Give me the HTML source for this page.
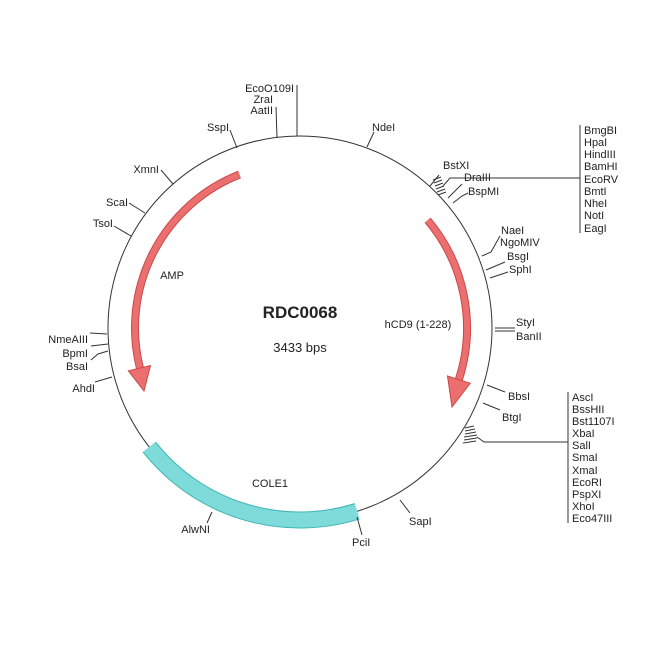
<!DOCTYPE html>
<html><head><meta charset="utf-8"><style>
html,body{margin:0;padding:0;background:#fff}
svg text{font-family:"Liberation Sans",sans-serif;fill:#222}
</style></head><body>
<svg width="650" height="650" viewBox="0 0 650 650" xmlns="http://www.w3.org/2000/svg">
<circle cx="300" cy="328" r="192" fill="none" stroke="#333" stroke-width="1"/>
<!-- COLE1 -->
<path d="M357.1 511.3 A192 192 0 0 1 149.3 447.0" fill="none" stroke="#3bb5b5" stroke-width="17"/>
<path d="M357.1 511.3 A192 192 0 0 1 149.3 447.0" fill="none" stroke="#7fdada" stroke-width="15"/>
<!-- AMP -->
<path d="M239.5 174.5 A165 165 0 0 0 139.9 367.9" fill="none" stroke="#c94848" stroke-width="8"/>
<path d="M239.5 174.5 A165 165 0 0 0 139.9 367.9" fill="none" stroke="#ec6f6f" stroke-width="6"/>
<polygon points="128.3,370.8 150.5,365.5 144,391" fill="#ec6f6f" stroke="#c94848" stroke-width="1"/>
<!-- hCD9 -->
<path d="M427.6 220.2 A167 167 0 0 1 458.8 379.6" fill="none" stroke="#c94848" stroke-width="8"/>
<path d="M427.6 220.2 A167 167 0 0 1 458.8 379.6" fill="none" stroke="#ec6f6f" stroke-width="6"/>
<polygon points="447.5,376 470.2,383.3 452,407" fill="#ec6f6f" stroke="#c94848" stroke-width="1"/>

<g stroke="#333" stroke-width="1" fill="none">
<line x1="297" y1="136" x2="297" y2="85"/>
<line x1="277" y1="138" x2="276" y2="107"/>
<line x1="237" y1="148" x2="230" y2="130"/>
<line x1="173" y1="184" x2="161" y2="170"/>
<line x1="145" y1="213" x2="129" y2="203"/>
<line x1="131" y1="236" x2="114" y2="226"/>
<line x1="367" y1="147" x2="374" y2="132"/>
<line x1="430" y1="186" x2="439" y2="175"/>
<polyline points="443,186 450,178 580,178"/>
<line x1="580" y1="125" x2="580" y2="233"/>
<polyline points="448,198 456,190 462,184"/>
<polyline points="453,203 462,196 468,193"/>
<polyline points="482,256 491,252 500,236"/>
<line x1="486" y1="270" x2="505" y2="262"/>
<line x1="490" y1="278" x2="508" y2="272"/>
<line x1="495" y1="328" x2="515" y2="328"/>
<line x1="495" y1="331" x2="515" y2="331"/>
<line x1="487" y1="385" x2="505" y2="392"/>
<line x1="483" y1="403" x2="500" y2="410"/>
<polyline points="477,437 484,442 568,442"/>
<line x1="568" y1="392" x2="568" y2="523"/>
<line x1="400" y1="500" x2="410" y2="513"/>
<line x1="357" y1="517" x2="362" y2="535"/>
<line x1="212" y1="512" x2="207" y2="523"/>
<line x1="112" y1="377" x2="95" y2="382"/>
<line x1="107" y1="334" x2="90" y2="333"/>
<line x1="108" y1="344" x2="91" y2="346"/>
<polyline points="108,351 98,354 91,360"/>
</g>
<!-- hatched boxes -->
<g stroke="#333" stroke-width="1">
<line x1="433" y1="180" x2="441" y2="177"/><line x1="434" y1="183" x2="442" y2="180"/>
<line x1="435" y1="186" x2="443" y2="183"/><line x1="436" y1="189" x2="444" y2="186"/>
<line x1="437" y1="192" x2="445" y2="189"/><line x1="438" y1="195" x2="446" y2="192"/>
<line x1="465" y1="428" x2="474" y2="426"/><line x1="465" y1="431" x2="475" y2="429"/>
<line x1="465" y1="434" x2="476" y2="432"/><line x1="464" y1="437" x2="477" y2="435"/>
<line x1="464" y1="440" x2="477" y2="438"/><line x1="463" y1="443" x2="476" y2="441"/>
</g>
<g font-size="11">
<text x="294" y="92" text-anchor="end">EcoO109I</text>
<text x="273" y="103" text-anchor="end">ZraI</text>
<text x="273" y="114" text-anchor="end">AatII</text>
<text x="229" y="131" text-anchor="end">SspI</text>
<text x="159" y="173" text-anchor="end">XmnI</text>
<text x="128" y="206" text-anchor="end">ScaI</text>
<text x="113" y="227" text-anchor="end">TsoI</text>
<text x="372" y="131">NdeI</text>
<text x="443" y="169">BstXI</text>
<text x="464" y="181">DraIII</text>
<text x="468" y="195">BspMI</text>
<text x="501" y="234">NaeI</text>
<text x="500" y="246">NgoMIV</text>
<text x="507" y="260">BsgI</text>
<text x="509" y="273">SphI</text>
<text x="516" y="326">StyI</text>
<text x="516" y="340">BanII</text>
<text x="508" y="400">BbsI</text>
<text x="502" y="421">BtgI</text>
<text x="409" y="525">SapI</text>
<text x="352" y="546">PciI</text>
<text x="210" y="533" text-anchor="end">AlwNI</text>
<text x="95" y="392" text-anchor="end">AhdI</text>
<text x="88" y="343" text-anchor="end">NmeAIII</text>
<text x="88" y="357" text-anchor="end">BpmI</text>
<text x="88" y="370" text-anchor="end">BsaI</text>
<text x="584" y="134">BmgBI</text>
<text x="584" y="146">HpaI</text>
<text x="584" y="158">HindIII</text>
<text x="584" y="170">BamHI</text>
<text x="584" y="183">EcoRV</text>
<text x="584" y="195">BmtI</text>
<text x="584" y="207">NheI</text>
<text x="584" y="219">NotI</text>
<text x="584" y="232">EagI</text>
<text x="572" y="401">AscI</text>
<text x="572" y="413">BssHII</text>
<text x="572" y="425">Bst1107I</text>
<text x="572" y="437">XbaI</text>
<text x="572" y="449">SalI</text>
<text x="572" y="461">SmaI</text>
<text x="572" y="474">XmaI</text>
<text x="572" y="486">EcoRI</text>
<text x="572" y="498">PspXI</text>
<text x="572" y="510">XhoI</text>
<text x="572" y="522">Eco47III</text>
<text x="172" y="279" text-anchor="middle">AMP</text>
<text x="418" y="328" text-anchor="middle">hCD9 (1-228)</text>
<text x="270" y="487" text-anchor="middle">COLE1</text>
</g>
<text x="300" y="318" text-anchor="middle" font-size="17" font-weight="bold">RDC0068</text>
<text x="300" y="352" text-anchor="middle" font-size="13">3433 bps</text>
</svg>
</body></html>
